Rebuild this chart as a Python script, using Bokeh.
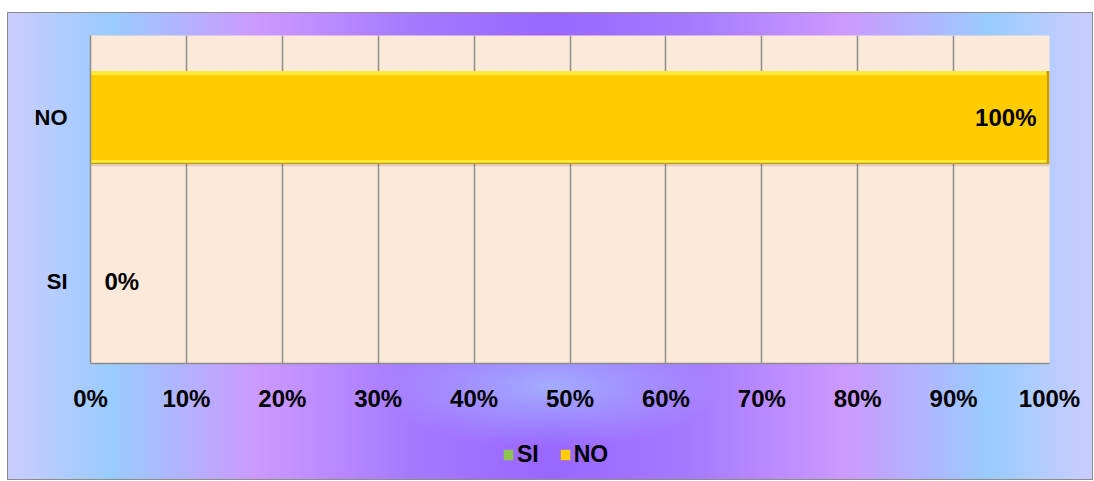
from bokeh.plotting import figure
from bokeh.layouts import column
from bokeh.models import (FactorRange, Range1d, FixedTicker, NumeralTickFormatter,
                          Legend, LegendItem, ColumnDataSource)
from bokeh.transform import dodge
from bokeh.core.properties import value
from bokeh.embed import file_html
from bokeh.resources import INLINE

# ---- data ----
categories = ["SI", "NO"]          # bottom to top
values = [0.0, 1.0]
series_names = ["SI", "NO"]
series_fill = ["#8DC452", "#FFCC00"]
series_light = ["#B5E07A", "#FFEA3A"]
series_dark = ["#5E8F2C", "#C79A00"]
tick_values = [0, 0.1, 0.2, 0.3, 0.4, 0.5, 0.6, 0.7, 0.8, 0.9, 1.0]

FONT = "Liberation Sans"

p = figure(width=1086, height=428,
           y_range=FactorRange(factors=categories),
           x_range=Range1d(0, 1),
           output_backend="svg", toolbar_location=None,
           min_border_left=83, min_border_right=44,
           min_border_top=23, min_border_bottom=77)

p.border_fill_alpha = 0
p.background_fill_color = "#FDE9D9"
p.outline_line_color = None

# ---- bars (3D-ish bevel via layered bars) ----
BAR_H = 0.567
sources = []
for i, (cat, v) in enumerate(zip(categories, values)):
    src = ColumnDataSource(dict(cat=[cat], val=[v], right_in=[max(v - 0.003, 0)]))
    sources.append(src)
    # soft shadow
    p.hbar(y=dodge("cat", -0.014, range=p.y_range), right="val", left=0, height=BAR_H,
           source=src, fill_color="#000000", fill_alpha=0.12, line_color=None)
    # dark bottom / right edge
    p.hbar(y="cat", right="val", left=0, height=BAR_H, source=src,
           fill_color=series_dark[i], line_color=None)
    # light top edge
    p.hbar(y=dodge("cat", 0.004, range=p.y_range), right="right_in", left=0,
           height=BAR_H - 0.008, source=src,
           fill_color=series_light[i], line_color=None)
    # main face
    p.hbar(y=dodge("cat", -0.001, range=p.y_range), right="right_in", left=0,
           height=BAR_H - 0.05, source=src,
           fill_color=series_fill[i], line_color=None)

# ---- data labels ----
lab_left = dict(cat=[], val=[], txt=[])
lab_right = dict(cat=[], val=[], txt=[])
for cat, v in zip(categories, values):
    d = lab_left if v < 0.5 else lab_right
    d["cat"].append(cat)
    d["val"].append(v)
    d["txt"].append(f"{v:.0%}")

p.text(x="val", y="cat", text="txt", source=ColumnDataSource(lab_left),
       x_offset=14, text_align="left", text_baseline="middle",
       text_font=value(FONT), text_font_style="bold", text_font_size="24px",
       text_color="#000000")
p.text(x="val", y="cat", text="txt", source=ColumnDataSource(lab_right),
       x_offset=-13, text_align="right", text_baseline="middle",
       text_font=value(FONT), text_font_style="bold", text_font_size="24px",
       text_color="#000000")

# ---- axes & grid ----
p.xaxis.ticker = FixedTicker(ticks=tick_values)
p.xaxis.formatter = NumeralTickFormatter(format="0%")
for ax in (p.xaxis, p.yaxis):
    ax.major_tick_line_color = None
    ax.minor_tick_line_color = None
    ax.major_tick_out = 0
    ax.major_tick_in = 0
    ax.axis_line_color = "#8c8c8c"
    ax.axis_line_width = 1.5
    ax.major_label_text_font = FONT
    ax.major_label_text_font_style = "bold"
    ax.major_label_text_color = "#000000"
p.xaxis.major_label_text_font_size = "24px"
p.xaxis.major_label_standoff = 21
p.yaxis.major_label_text_font_size = "22px"
p.yaxis.major_label_standoff = 23

p.xgrid.ticker = FixedTicker(ticks=tick_values)
p.xgrid.grid_line_color = "#8c8c8c"
p.xgrid.grid_line_width = 1.5
p.ygrid.grid_line_color = None

# ---- legend strip (separate transparent figure under the chart) ----
pl = figure(width=1086, height=40, x_range=Range1d(0, 1), y_range=FactorRange(factors=categories),
            x_axis_type=None, y_axis_type=None,
            output_backend="svg", toolbar_location=None,
            min_border=0, min_border_left=0, min_border_right=0,
            min_border_top=0, min_border_bottom=0)
pl.border_fill_alpha = 0
pl.background_fill_alpha = 0
pl.outline_line_color = None
leg_renderers = []
for i, src in enumerate(sources):
    # zero-height proxies: nothing visible in the strip, only the legend swatch
    leg_renderers.append(pl.hbar(y="cat", right="val", left=0, height=0, source=src,
                                 fill_color=series_fill[i], line_color=None))

legend = Legend(
    items=[LegendItem(label=n, renderers=[r]) for n, r in zip(series_names, leg_renderers)],
    orientation="horizontal", location=(412, 12),
    glyph_width=12, glyph_height=13, label_standoff=3, spacing=20,
    padding=0, margin=0, border_line_color=None, background_fill_alpha=0,
    label_text_font=FONT, label_text_font_style="bold", label_text_font_size="23px",
    label_text_color="#000000",
)
pl.add_layout(legend, "center")

layout = column(p, pl, spacing=0)
layout.styles = {
    "margin-left": "7px",
    "margin-top": "12px",
    "background": (
        "radial-gradient(ellipse 170px 62px at 50% 80%, rgba(165,185,255,0.85) 0%, rgba(165,185,255,0) 100%),"
        "linear-gradient(to right, #ccccff 0%, #99ccff 9.5%, #cc99ff 23%, #a67aff 37%, "
        "#9966ff 50%, #a67aff 63%, #cc99ff 77%, #99ccff 90.5%, #ccccff 100%)"
    ),
    "box-shadow": "inset 0 0 0 1px #8c8c8c",
}

open("out.html", "w").write(file_html(layout, INLINE))
